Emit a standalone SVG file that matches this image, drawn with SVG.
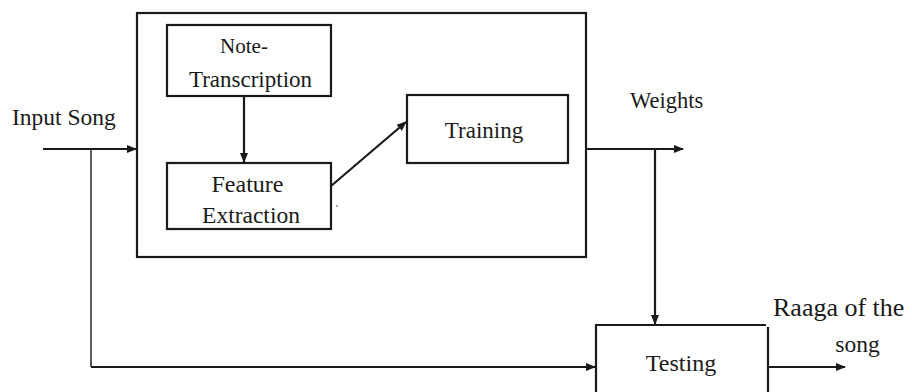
<svg xmlns="http://www.w3.org/2000/svg" width="912" height="392" viewBox="0 0 912 392">
<style>
.box{fill:none;stroke:#1a1a1a;stroke-width:2.2}
.ln{fill:none;stroke:#1a1a1a;stroke-width:2.2}
.ln1{fill:none;stroke:#333;stroke-width:1.6}
text{font-family:"Liberation Serif","Times New Roman",serif;font-size:23px;fill:#1a1a1a}
.c{text-anchor:middle}
</style>
<defs>
<marker id="ah" markerWidth="10" markerHeight="10" refX="9" refY="5" orient="auto" markerUnits="userSpaceOnUse">
<path d="M0,1 L10,5 L0,9 Z" fill="#1a1a1a"/>
</marker>
</defs>
<rect width="912" height="392" fill="#fff"/>
<g id="outer"><rect class="box" x="137" y="13" width="449" height="244"/></g>
<g id="note"><rect class="box" x="167" y="25" width="164" height="71"/>
<text class="c" x="244" y="53" style="font-size:21px">Note-</text>
<text class="c" x="250.5" y="87">Transcription</text></g>
<g id="feature"><rect class="box" x="167" y="163" width="164" height="66"/>
<text class="c" x="247.5" y="192" style="font-size:24px">Feature</text>
<text class="c" x="251" y="223" style="font-size:23.5px">Extraction</text>
<circle cx="337" cy="206" r="1" fill="#888"/></g>
<g id="training"><rect class="box" x="407" y="95" width="161" height="68"/>
<text class="c" x="484" y="138">Training</text></g>
<g id="testing"><path class="box" d="M596,392 V325 H766 M768,327 V392"/>
<text class="c" x="681" y="371" style="font-size:24px">Testing</text></g>
<g id="labels">
<text x="12" y="125" style="font-size:23.5px">Input Song</text>
<text x="630" y="108" style="font-size:22.5px">Weights</text>
<text x="773" y="316" style="font-size:26px">Raaga of the</text>
<text class="c" x="857.5" y="352" style="font-size:23.5px">song</text>
</g>
<g id="connectors">
<line class="ln" x1="43" y1="149" x2="136" y2="149" marker-end="url(#ah)"/>
<path class="ln1" d="M91,149 V367"/>
<line class="ln" x1="91" y1="367" x2="595" y2="367" marker-end="url(#ah)"/>
<line class="ln" x1="244" y1="96" x2="244" y2="162" marker-end="url(#ah)"/>
<line class="ln" x1="331" y1="186" x2="406" y2="122" marker-end="url(#ah)"/>
<line class="ln" x1="586" y1="149" x2="683" y2="149" marker-end="url(#ah)"/>
<line class="ln" x1="655" y1="149" x2="655" y2="324" marker-end="url(#ah)"/>
<line class="ln" x1="768" y1="367" x2="845" y2="367" marker-end="url(#ah)"/>
</g>
</svg>
